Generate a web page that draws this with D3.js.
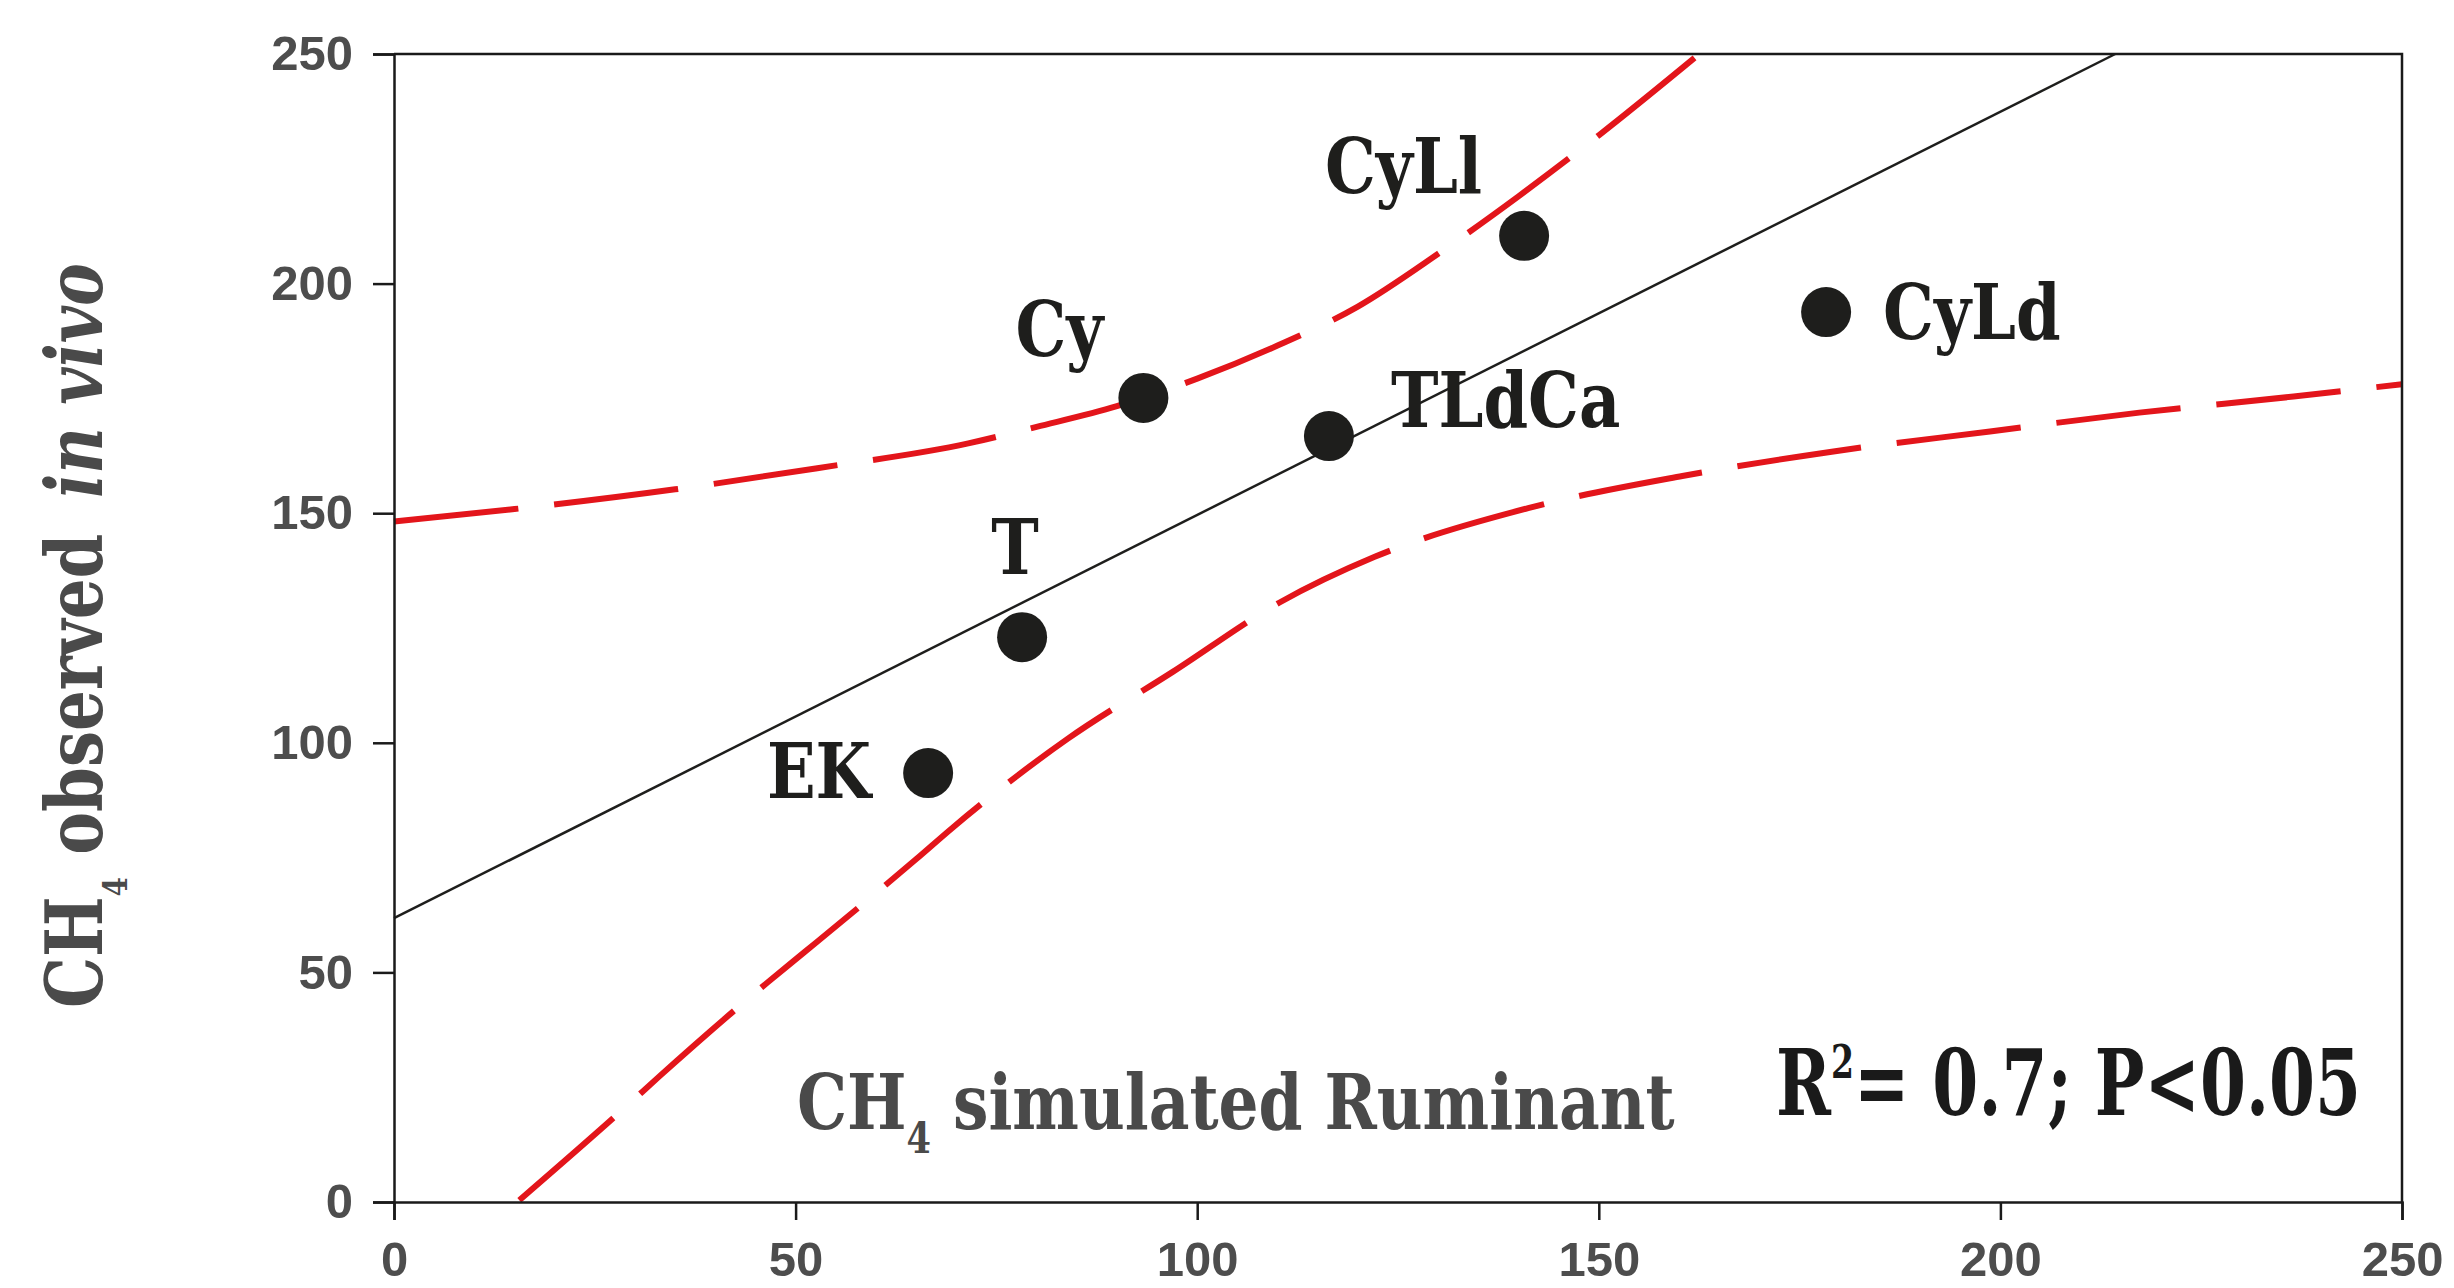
<!DOCTYPE html>
<html><head><meta charset="utf-8">
<script src="https://cdn.jsdelivr.net/npm/d3@7"></script>
<style>html,body{margin:0;padding:0;background:#fff;overflow:hidden}</style>
</head><body>
<svg id="chart" width="2454" height="1288"></svg>
<script>
// ---- data ----
const pointNames   = ["EK", "T", "Cy", "TLdCa", "CyLl", "CyLd"];
const simulatedCH4 = [66.5, 78.2, 93.3, 116.4, 140.7, 178.3];
const observedCH4  = [93.4, 123.0, 175.1, 166.8, 210.4, 193.8];

const regressionX = [0, 214.3];
const regressionY = [61.8, 250];

const upperBandX = [0, 15, 35, 52.7, 71.5, 80, 90, 100, 110, 120, 130, 140, 150, 162.5];
const upperBandY = [148.2, 150.9, 155.2, 159.8, 165.2, 168.8, 173.3, 179.3, 186.5, 195, 206.5, 219, 232.3, 250];

const lowerBandX = [15.6, 28.9, 33.0, 46.5, 51.1, 65.1, 69.4, 83.9, 97, 110.2, 122.1, 141.2, 160.4, 179.0, 198.7, 217.3, 236.5, 250];
const lowerBandY = [0.4, 20.8, 27.3, 47.8, 54.4, 74.8, 81.3, 100.9, 115.5, 130.5, 140.5, 151.1, 158.1, 163.4, 167.8, 171.9, 175.4, 178.1];

const xTickValues = [0, 50, 100, 150, 200, 250];
const yTickValues = [0, 50, 100, 150, 200, 250];

const yTitleMain = "CH", yTitleSub = "4", yTitleRest = " observed ", yTitleItalic = "in vivo";
const xTitleMain = "CH", xTitleSub = "4", xTitleRest = " simulated Ruminant";
const statMain = "R", statSup = "2", statRest = "= 0.7; P<0.05";

// ---- layout (not data) ----
const labelPlacement = {
  EK:    {anchor: "end",    dx: -57, dy: 25},
  T:     {anchor: "middle", dx: -7,  dy: -63},
  Cy:    {anchor: "end",    dx: -40, dy: -42},
  TLdCa: {anchor: "start",  dx: 62,  dy: -9},
  CyLl:  {anchor: "end",    dx: -42, dy: -43},
  CyLd:  {anchor: "start",  dx: 57,  dy: 27}
};

const svg = d3.select("#chart");
const x = d3.scaleLinear().domain([0, 250]).range([394, 2402]);
const y = d3.scaleLinear().domain([0, 250]).range([1202, 54]);

const serif = "'DejaVu Serif', 'Liberation Serif', serif";
const sans = "'Liberation Sans', Arial, sans-serif";
const red = "#e3151b";
const ink = "#1e1e1c";
const grey = "#4a4a4a";

// bands
const line = d3.line().x(d => x(d[0])).y(d => y(d[1])).curve(d3.curveMonotoneX);
const upper = upperBandX.map((v, i) => [v, upperBandY[i]]);
const lower = lowerBandX.map((v, i) => [v, lowerBandY[i]]);
[upper, lower].forEach(b => {
  svg.append("path").attr("d", line(b)).attr("fill", "none")
    .attr("stroke", red).attr("stroke-width", 6).attr("stroke-dasharray", "125 36");
});

// regression line
svg.append("path")
  .attr("d", d3.line().x(d => x(d[0])).y(d => y(d[1]))(regressionX.map((v, i) => [v, regressionY[i]])))
  .attr("fill", "none").attr("stroke", ink).attr("stroke-width", 2.5);

// axes
const yAxis = svg.append("g").attr("transform", `translate(${x(0)},0)`)
  .call(d3.axisLeft(y).tickValues(yTickValues).tickSize(21).tickPadding(20));
const xAxis = svg.append("g").attr("transform", `translate(0,${y(0)})`)
  .call(d3.axisBottom(x).tickValues(xTickValues).tickSize(18).tickPadding(21));
[yAxis, xAxis].forEach(a => {
  a.selectAll("path, line").attr("stroke", "#1a1a1a").attr("stroke-width", 2.5);
  a.selectAll("text").attr("font-family", sans).attr("font-weight", "bold")
    .attr("font-size", 49).attr("fill", "#4d4d4d");
});
// frame top & right
svg.append("path")
  .attr("d", `M${x(0)},${y(250)}H${x(250)}V${y(0)}`)
  .attr("fill", "none").attr("stroke", "#1a1a1a").attr("stroke-width", 2.5);

// points
const pts = pointNames.map((n, i) => ({name: n, sx: simulatedCH4[i], oy: observedCH4[i]}));
svg.append("g").selectAll("circle").data(pts).join("circle")
  .attr("cx", d => x(d.sx)).attr("cy", d => y(d.oy)).attr("r", 25).attr("fill", ink);

// point labels
svg.append("g").selectAll("text").data(pts).join("text")
  .attr("transform", d => {
    const p = labelPlacement[d.name];
    return `translate(${x(d.sx) + p.dx},${y(d.oy) + p.dy}) scale(0.83,1)`;
  })
  .attr("text-anchor", d => labelPlacement[d.name].anchor)
  .attr("font-family", serif).attr("font-weight", "bold").attr("font-size", 77)
  .attr("fill", ink).text(d => d.name);

function fit(t, target) {
  const w = t.node().getBBox().width;
  return target / w;
}

// y title
const yt = svg.append("text").attr("font-family", serif).attr("font-weight", "bold")
  .attr("font-size", 78).attr("fill", grey);
yt.append("tspan").text(yTitleMain);
yt.append("tspan").attr("font-size", 34).attr("dy", 25).text(yTitleSub);
yt.append("tspan").attr("dy", -25).text(yTitleRest);
yt.append("tspan").attr("dx", 16).attr("font-style", "italic").text(yTitleItalic);
const ys = fit(yt, 745);
yt.attr("transform", `translate(102,1008) rotate(-90) scale(${ys},1)`);

// x title
const xt = svg.append("text").attr("font-family", serif).attr("font-weight", "bold")
  .attr("font-size", 77).attr("fill", grey);
xt.append("tspan").text(xTitleMain);
xt.append("tspan").attr("font-size", 43).attr("dy", 24).text(xTitleSub);
xt.append("tspan").attr("dy", -24).text(xTitleRest);
const xs = fit(xt, 878);
xt.attr("transform", `translate(797,1129) scale(${xs},1)`);

// statistics
const st = svg.append("text").attr("font-family", serif).attr("font-weight", "bold")
  .attr("font-size", 92).attr("fill", "#1a1a1a");
st.append("tspan").text(statMain);
st.append("tspan").attr("font-size", 46).attr("dy", -37).text(statSup);
st.append("tspan").attr("dy", 37).text(statRest);
const ss = fit(st, 585);
st.attr("transform", `translate(1776,1115) scale(${ss},1)`);
</script>
</body></html>
